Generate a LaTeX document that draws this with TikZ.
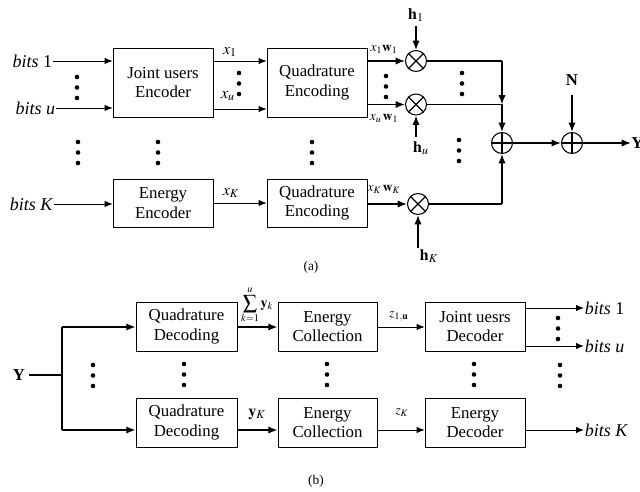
\documentclass[tikz,border=0pt]{standalone}
\usepackage{mathptmx}
\usepackage{fontspec}
\setmainfont{Liberation Serif}
\usetikzlibrary{arrows.meta,calc}
\begin{document}
\begin{tikzpicture}[x=0.75pt,y=-0.75pt,
  box/.style={draw,line width=0.6pt,minimum width=75pt,align=center,inner sep=0pt,
    font=\fontsize{12.6}{14.5}\selectfont},
  tallbox/.style={box,minimum height=51.75pt},
  lowbox/.style={box,minimum height=36pt},
  thinarr/.style={line width=0.6pt,-{Latex[length=6pt,width=4.8pt]}},
  thickarr/.style={line width=1.2pt,-{Latex[length=7pt,width=5.5pt]}},
  thickline/.style={line width=1.2pt},
  mult/.style={draw,circle,line width=0.8pt,minimum size=15.75pt,inner sep=0pt},
  bitslab/.style={font=\fontsize{13.5}{15}\selectfont,inner sep=0.5pt},
  lab/.style={font=\fontsize{12}{14}\selectfont,inner sep=0pt},
  smlab/.style={font=\fontsize{10}{12}\selectfont,inner sep=0pt},
  dot/.style={fill=black}
]
\useasboundingbox (0,0) rectangle (640,492);

% ---------- (a) ----------
\node[tallbox] (jue) at (163,82.5) {Joint users\\Encoder};
\node[tallbox] (qe1) at (317,82.5) {Quadrature\\Encoding};
\node[lowbox] (ee) at (163,203) {Energy\\Encoder};
\node[lowbox] (qe2) at (317,203) {Quadrature\\Encoding};

\node[bitslab,anchor=east] (b1) at (53,61) {\textit{bits} 1};
\node[bitslab,anchor=east] (bu) at (56,108) {\textit{bits u}};
\node[bitslab,anchor=west] (bK) at (9,204) {\textit{bits K}};

\draw[thinarr] (b1.east) -- (b1.east -| jue.west);
\draw[thinarr] (bu.east) -- (bu.east -| jue.west);
\draw[thinarr] (bK.east) -- (bK.east -| ee.west);

\coordinate (xa) at (213,61);
\coordinate (xb) at (213,109);
\draw[thinarr] (xa) -- (xa -| qe1.west);
\draw[thinarr] (xb) -- (xb -| qe1.west);
\draw[thinarr] (ee.east) -- (qe2.west);
\node[lab] (lx1) at (230,52) {$x_{1}$};
\node[lab] (lxu) at (228,96) {$x_{u}$};
\node[lab] (lxK) at (231,193) {$x_{K}$};

\node[mult] (m1) at (416,61) {};
\node[mult] (mu) at (416,104.5) {};
\node[mult] (mK) at (418,204) {};
\foreach \m in {m1,mu,mK}{
  \draw[line width=0.8pt] (\m.north east) -- (\m.south west);
  \draw[line width=0.8pt] (\m.north west) -- (\m.south east);
}
\draw[thickarr] (m1 -| qe1.east) -- (m1.west);
\draw[thickarr] (mu -| qe1.east) -- (mu.west);
\draw[thickarr] (mK -| qe2.east) -- (mK.west);
\node[smlab] (lxw1) at (384,49) {$x_{1}\mathbf{w}_{1}$};
\node[smlab] (lxwu) at (384,118) {$x_{u}\,\mathbf{w}_{1}$};
\node[smlab] (lxwK) at (384,189) {$x_{K}\,\mathbf{w}_{K}$};

\node[lab] (h1) at (416,15) {$\mathbf{h}_{1}$};
\node[lab] (hu) at (421,148) {$\mathbf{h}_{u}$};
\node[lab] (hK) at (429,256) {$\mathbf{h}_{K}$};
\draw[thickarr] ($(h1.south)+(0,4)$) -- (m1.north);
\draw[thickarr] (416,137) -- (mu.south);
\draw[thickarr] (418,248) -- (mK.south);

\node[mult] (p1) at (502,143) {};
\node[mult] (p2) at (572,143) {};
\foreach \p in {p1,p2}{
  \draw[line width=0.8pt] (\p.north) -- (\p.south);
  \draw[line width=0.8pt] (\p.west) -- (\p.east);
}
\coordinate (c1) at (502,61);
\coordinate (cu) at (502,104.5);
\coordinate (cK) at (502,204);
\draw[thickline] (m1.east) -- (c1);
\draw[thickarr] (c1) -- (cu);
\draw[thickline] (mu.east) -- (cu);
\draw[thickarr] (cu) -- (p1.north);
\draw[thickline] (mK.east) -- (cK);
\draw[thickarr] (cK) -- (p1.south);

\node[lab,font=\fontsize{12.5}{14}\selectfont\bfseries] (N) at (572,80) {N};
\draw[thickarr] (572,95) -- (p2.north);
\draw[thickarr] (p1.east) -- (p2.west);
\node[lab,font=\fontsize{12.5}{14}\selectfont\bfseries,anchor=west] (Yo) at (631,143) {Y};
\draw[thickarr] (p2.east) -- (Yo.west);

\foreach \x/\y in {77/77,239/73,386/76,462/73,
                   78/142,158/142,312/142,459/140}{
  \foreach \d in {0,10.5,21}{
    \fill[dot] (\x,\y+\d) circle (2.3);
  }
}
\node[font=\fontsize{10}{12}\selectfont] (capa) at (311,267) {(a)};

% ---------- (b) ----------
\node[lowbox,minimum width=75.75pt,minimum height=36.75pt] (qd1) at (186.5,326.5) {Quadrature\\Decoding};
\node[lowbox,minimum width=75.75pt,minimum height=36.75pt] (qd2) at (186.5,422.5) {Quadrature\\Decoding};
\node[lowbox,minimum width=74.25pt,minimum height=36.75pt] (ec1) at (327.5,326.5) {Energy\\Collection};
\node[lowbox,minimum width=74.25pt,minimum height=36.75pt] (ec2) at (327.5,422.5) {Energy\\Collection};
\node[lowbox,minimum height=36.75pt] (jud) at (475,326.5) {Joint uesrs\\Decoder};
\node[lowbox,minimum height=36.75pt] (ed) at (475,422.5) {Energy\\Decoder};

\node[lab,font=\fontsize{12.5}{14}\selectfont\bfseries] (Yi) at (19,375) {Y};
\coordinate (j) at (62,375);
\coordinate (jt) at (62,327);
\coordinate (jb) at (62,430);
\draw[thickline] ($(Yi.east)+(4,0)$) -- (j);
\draw[thickline] (jt) -- (jb);
\draw[thickarr] (jt) -- (jt -| qd1.west);
\draw[thickarr] (jb) -- (jb -| qd2.west);

\draw[thickarr] (qd1.east |- 0,327) -- (ec1.west |- 0,327);
\draw[thickarr] (qd2.east |- 0,430) -- (ec2.west |- 0,430);
\node[font=\fontsize{10.5}{12}\selectfont,inner sep=0pt] (lsum) at (257,305) {$\displaystyle\sum_{k=1}^{u}\mathbf{y}_{k}$};
\node[lab] (lyK) at (257,414) {$\mathbf{y}_{K}$};

\draw[thinarr] (ec1.east |- 0,327) -- (jud.west |- 0,327);
\draw[thinarr] (ec2.east |- 0,430) -- (ed.west |- 0,430);
\node[smlab] (lz1) at (399,317) {$z_{1,\mathbf{u}}$};
\node[smlab] (lzK) at (402,413) {$z_{K}$};

\node[bitslab,anchor=west] (ob1) at (584,308) {\textit{bits} 1};
\node[bitslab,anchor=west] (obu) at (584,346) {\textit{bits u}};
\node[bitslab,anchor=west] (obK) at (584,430) {\textit{bits K}};
\draw[thinarr] (ob1.west -| jud.east) -- (ob1.west);
\draw[thinarr] (obu.west -| jud.east) -- (obu.west);
\draw[thinarr] (obK.west -| ed.east) -- (obK.west);

\foreach \x/\y in {558/318,93/365,184/364,327/364,474/364,560/365}{
  \foreach \d in {0,10.5,21}{
    \fill[dot] (\x,\y+\d) circle (2.3);
  }
}
\node[font=\fontsize{10}{12}\selectfont] (capb) at (316,481) {(b)};
\end{tikzpicture}
\end{document}
